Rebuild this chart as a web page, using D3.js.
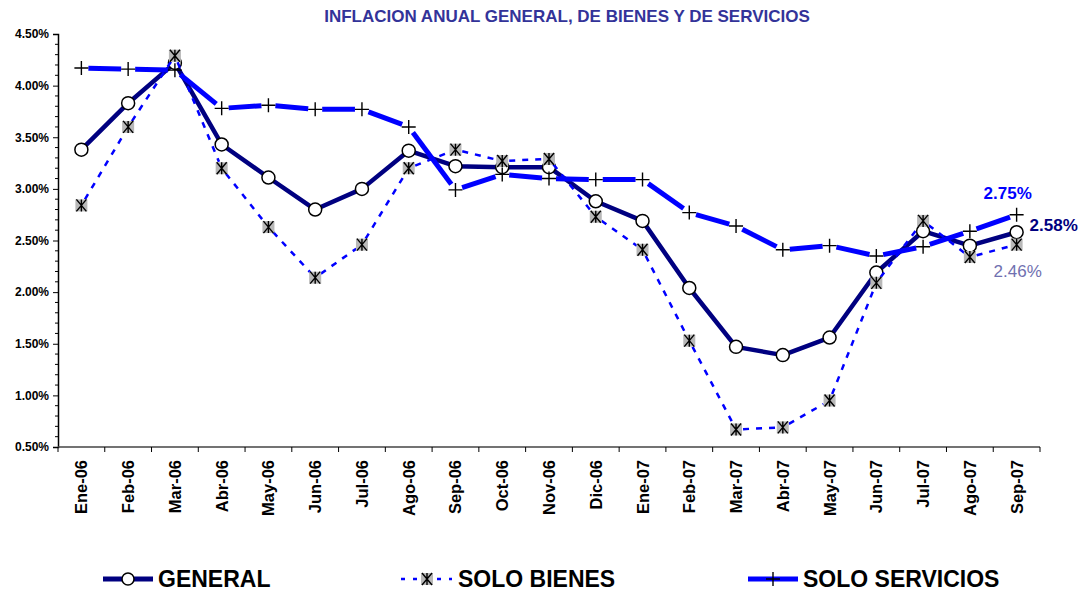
<!DOCTYPE html>
<html><head><meta charset="utf-8">
<script src="https://cdn.jsdelivr.net/npm/d3@7/dist/d3.min.js"></script>
<style>body{margin:0;background:#fff}svg{display:block;font-family:"Liberation Sans",Arial,sans-serif}</style>
</head><body>
<svg id="c" width="1080" height="593"></svg>
<script>
const months = ["Ene-06","Feb-06","Mar-06","Abr-06","May-06","Jun-06","Jul-06","Ago-06","Sep-06","Oct-06","Nov-06","Dic-06","Ene-07","Feb-07","Mar-07","Abr-07","May-07","Jun-07","Jul-07","Ago-07","Sep-07"];
const general = [3.38,3.83,4.22,3.43,3.11,2.80,3.00,3.37,3.22,3.21,3.21,2.88,2.69,2.04,1.47,1.39,1.56,2.19,2.59,2.45,2.58];
const bienes = [2.84,3.60,4.29,3.20,2.63,2.14,2.46,3.20,3.38,3.27,3.29,2.73,2.41,1.53,0.67,0.69,0.95,2.09,2.69,2.34,2.46];
const servicios = [4.17,4.16,4.15,3.78,3.81,3.77,3.77,3.60,2.99,3.14,3.10,3.09,3.09,2.77,2.64,2.41,2.45,2.35,2.44,2.59,2.75];
const yTicks = [0.5,1.0,1.5,2.0,2.5,3.0,3.5,4.0,4.5];
const title = "INFLACION ANUAL GENERAL, DE BIENES Y DE SERVICIOS";
const seriesNames = ["GENERAL","SOLO BIENES","SOLO SERVICIOS"];

const svg = d3.select("#c");
const L=58, R=1040, T=34, B=447;
const x = d3.scaleBand().domain(months).range([L,R]);
const cx = m => x(m)+x.bandwidth()/2;
const y = d3.scaleLinear().domain([0.5,4.5]).range([B,T]);

svg.append("text").attr("x",567).attr("y",22).attr("text-anchor","middle")
  .attr("font-size",17).attr("font-weight","bold").attr("fill","#333399").text(title);

// axes
const ya = d3.axisLeft(y).tickValues(yTicks).tickSize(5).tickFormat(d=>d3.format(".2f")(d)+"%");
const yg = svg.append("g").attr("transform",`translate(${L},0)`).call(ya);
yg.select(".domain").attr("stroke","#000").attr("stroke-width",1.5);
yg.selectAll(".tick text").attr("font-size",12).attr("font-weight","bold").attr("fill","#000").attr("x",-9);
const minor = d3.range(0.5,4.5,0.1).filter(v=>Math.abs(v*2-Math.round(v*2))>0.01);
svg.append("g").selectAll("line").data(minor).join("line")
  .attr("x1",L-3).attr("x2",L).attr("y1",d=>y(d)).attr("y2",d=>y(d)).attr("stroke","#000");

const xg = svg.append("g").attr("transform",`translate(0,${B})`);
xg.append("line").attr("x1",L).attr("x2",R).attr("stroke","#444").attr("stroke-width",1.5);
const bounds = months.map(m=>x(m)).concat([R]);
xg.selectAll("line.t").data(bounds).join("line").attr("class","t")
  .attr("x1",d=>d).attr("x2",d=>d).attr("y1",0).attr("y2",5).attr("stroke","#000");
xg.selectAll("text").data(months).join("text")
  .attr("transform",d=>`translate(${cx(d)+6},13) rotate(-90)`)
  .attr("text-anchor","end").attr("font-size",16.5).attr("font-weight","bold").text(d=>d);

// gapped segments
function segs(vals, gap){
  const out=[];
  for(let i=0;i<vals.length-1;i++){
    const x1=cx(months[i]),y1=y(vals[i]),x2=cx(months[i+1]),y2=y(vals[i+1]);
    const dx=x2-x1,dy=y2-y1,l=Math.hypot(dx,dy);
    out.push([x1+dx/l*gap,y1+dy/l*gap,x2-dx/l*gap,y2-dy/l*gap]);
  }
  return out;
}
function star(g,px,py){
  g.append("rect").attr("x",px-6).attr("y",py-6).attr("width",12).attr("height",12).attr("fill","#b8b8b8");
  g.append("path").attr("d",`M${px-5},${py-6}L${px+5},${py+6}M${px+5},${py-6}L${px-5},${py+6}M${px},${py-6}L${px},${py+6}`)
    .attr("stroke","#000").attr("stroke-width",1.4);
}
function plus(g,px,py){
  g.append("path").attr("d",`M${px-7},${py}L${px+7},${py}M${px},${py-7}L${px},${py+7}`).attr("stroke","#000").attr("stroke-width",1.4);
}

// general
const g1 = svg.append("g");
g1.append("path").datum(general).attr("fill","none").attr("stroke","#000080").attr("stroke-width",4.5)
  .attr("stroke-linejoin","round")
  .attr("d",d3.line().x((d,i)=>cx(months[i])).y(d=>y(d)));
g1.selectAll("circle").data(general).join("circle")
  .attr("cx",(d,i)=>cx(months[i])).attr("cy",d=>y(d)).attr("r",6.5)
  .attr("fill","#fff").attr("stroke","#000").attr("stroke-width",1.5);
// bienes
const g2 = svg.append("g");
g2.selectAll("line.b").data(segs(bienes,7)).join("line").attr("class","b")
  .attr("x1",d=>d[0]).attr("y1",d=>d[1]).attr("x2",d=>d[2]).attr("y2",d=>d[3])
  .attr("stroke","#0000ff").attr("stroke-width",2.5).attr("stroke-dasharray","6,7");
bienes.forEach((v,i)=>star(g2,cx(months[i]),y(v)));
// servicios
const g3 = svg.append("g");
g3.selectAll("line.s").data(segs(servicios,7)).join("line").attr("class","s")
  .attr("x1",d=>d[0]).attr("y1",d=>d[1]).attr("x2",d=>d[2]).attr("y2",d=>d[3])
  .attr("stroke","#0000ff").attr("stroke-width",5);
servicios.forEach((v,i)=>plus(g3,cx(months[i]),y(v)));

// end labels
const last = months.length-1;
svg.append("text").attr("x",cx(months[last])-33).attr("y",y(servicios[last])-16)
  .attr("font-size",17).attr("font-weight","bold").attr("fill","#0000ff").text(d3.format(".2f")(servicios[last])+"%");
svg.append("text").attr("x",cx(months[last])+13).attr("y",y(general[last])-1)
  .attr("font-size",17).attr("font-weight","bold").attr("fill","#000080").text(d3.format(".2f")(general[last])+"%");
svg.append("text").attr("x",cx(months[last])-23).attr("y",y(bienes[last])+32)
  .attr("font-size",17).attr("fill","#7070b0").text(d3.format(".2f")(bienes[last])+"%");

// legend
const ly=579;
const lg = svg.append("g");
lg.append("line").attr("x1",103).attr("x2",153).attr("y1",ly).attr("y2",ly).attr("stroke","#000080").attr("stroke-width",5);
lg.append("circle").attr("cx",128).attr("cy",ly).attr("r",6).attr("fill","#fff").attr("stroke","#000").attr("stroke-width",1.5);
lg.append("text").attr("x",158).attr("y",ly+8).attr("font-size",23).attr("font-weight","bold").text(seriesNames[0]);
lg.append("line").attr("x1",401).attr("x2",452).attr("y1",ly).attr("y2",ly).attr("stroke","#0000ff").attr("stroke-width",2.5).attr("stroke-dasharray","4,8");
star(lg,427,ly);
lg.append("text").attr("x",458).attr("y",ly+8).attr("font-size",23).attr("font-weight","bold").text(seriesNames[1]);
lg.append("line").attr("x1",748).attr("x2",798).attr("y1",ly).attr("y2",ly).attr("stroke","#0000ff").attr("stroke-width",5);
plus(lg,773,ly);
lg.append("text").attr("x",803).attr("y",ly+8).attr("font-size",23).attr("font-weight","bold").text(seriesNames[2]);
</script>
</body></html>
